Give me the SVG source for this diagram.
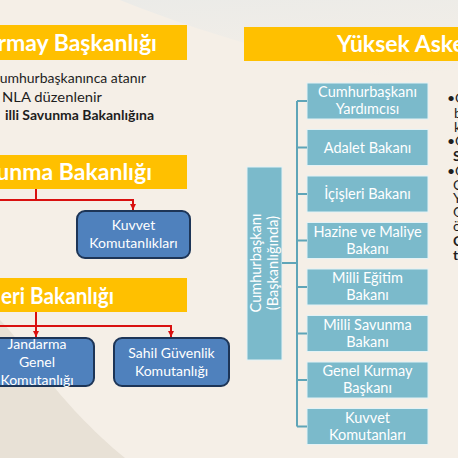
<svg xmlns="http://www.w3.org/2000/svg" width="458" height="458" viewBox="0 0 458 458">
<defs>
<linearGradient id="topg" x1="0" y1="0" x2="0.3" y2="1">
<stop offset="0" stop-color="#ebebe8" stop-opacity="1"/>
<stop offset="1" stop-color="#ebebe8" stop-opacity="0"/>
</linearGradient>
<marker id="ar" viewBox="0 0 6 6" refX="6" refY="3" markerWidth="6" markerHeight="6" orient="auto" markerUnits="userSpaceOnUse">
<path d="M0,0 L6,3 L0,6 Z" fill="#d9100f"/>
</marker>
<style>
.ban{fill:#ffc000}
.bt{font-family:Lato,"Open Sans",sans-serif;font-weight:bold;font-size:23px;fill:#fff}
.bl{font-family:Lato,"Open Sans",sans-serif;font-size:14px;fill:#1e1e1e}
.blue{fill:#4f81bd;stroke:#1d3557;stroke-width:2}
.wt{font-family:Lato,"Open Sans",sans-serif;font-size:14px;fill:#fff;text-anchor:middle}
.teal{fill:#7bbacb;stroke:#e4f2f5;stroke-width:1}
.tt{font-family:Lato,"Open Sans",sans-serif;font-size:14.5px;fill:#fff;text-anchor:middle}
.red{fill:none;stroke:#d9100f;stroke-width:2}
.tl{fill:none;stroke:#5fa5b8;stroke-width:2}
</style>
</defs>
<rect width="458" height="458" fill="#f5efe7"/>
<path d="M120,0 C220,40 330,70 458,90 L458,0 Z" fill="url(#topg)"/>
<path d="M0,320 C25,345 55,400 125,458 L0,458 Z" fill="#e8e1d6"/>

<g id="banner-gkb">
<rect class="ban" x="-10" y="25" width="197" height="35"/>
<text class="bt" x="157" y="51" text-anchor="end">urmay Başkanlığı</text>
</g>
<g id="gkb-notes">
<text class="bl" x="146" y="83" text-anchor="end">umhurbaşkanınca atanır</text>
<text class="bl" x="2" y="102" textLength="100" lengthAdjust="spacingAndGlyphs">NLA düzenlenir</text>
<text class="bl" x="154" y="120" text-anchor="end" font-weight="bold">illi Savunma Bakanlığına</text>
</g>
<g id="banner-msb">
<rect class="ban" x="-10" y="155" width="197" height="34"/>
<text class="bt" x="152" y="180" text-anchor="end">vunma Bakanlığı</text>
</g>
<g id="kuvvet-komutanliklari">
<rect class="blue" x="77" y="211" width="113" height="47" rx="8"/>
<text class="wt" x="133.5" y="230">Kuvvet</text>
<text class="wt" x="133.5" y="248">Komutanlıkları</text>
</g>
<g id="banner-icisleri">
<rect class="ban" x="-10" y="278" width="197" height="34"/>
<text class="bt" x="1" y="304" textLength="113" lengthAdjust="spacingAndGlyphs">eri Bakanlığı</text>
</g>
<g id="jandarma">
<rect class="blue" x="-19" y="338" width="113" height="48" rx="8"/>
<text class="wt" x="37" y="349">Jandarma</text>
<text class="wt" x="37" y="367">Genel</text>
<text class="wt" x="37" y="385">Komutanlığı</text>
</g>
<g id="sahil">
<rect class="blue" x="114" y="338" width="115" height="48" rx="8"/>
<text class="wt" x="171.5" y="358">Sahil Güvenlik</text>
<text class="wt" x="171.5" y="376">Komutanlığı</text>
</g>

<g id="banner-yas">
<rect class="ban" x="244" y="27" width="224" height="34"/>
<text class="bt" x="337" y="52">Yüksek Aske</text>
</g>
<g id="cumhurbaskani">
<rect class="teal" x="247" y="167" width="35" height="193"/>
<text class="tt" transform="translate(261,263) rotate(-90)">Cumhurbaşkanı</text>
<text class="tt" transform="translate(278,263) rotate(-90)">(Başkanlığında)</text>
</g>
<g id="m1"><rect class="teal" x="307" y="83" width="121" height="36"/><text class="tt" x="367.5" y="97">Cumhurbaşkanı</text><text class="tt" x="367.5" y="114">Yardımcısı</text></g>
<g id="m2"><rect class="teal" x="307" y="129.5" width="121" height="36"/><text class="tt" x="367.5" y="152.5">Adalet Bakanı</text></g>
<g id="m3"><rect class="teal" x="307" y="176" width="121" height="36"/><text class="tt" x="367.5" y="199">İçişleri Bakanı</text></g>
<g id="m4"><rect class="teal" x="307" y="222.5" width="121" height="36"/><text class="tt" x="367.5" y="236.5">Hazine ve Maliye</text><text class="tt" x="367.5" y="253.5">Bakanı</text></g>
<g id="m5"><rect class="teal" x="307" y="269" width="121" height="36"/><text class="tt" x="367.5" y="283">Milli Eğitim</text><text class="tt" x="367.5" y="300">Bakanı</text></g>
<g id="m6"><rect class="teal" x="307" y="315.5" width="121" height="36"/><text class="tt" x="367.5" y="329.5">Milli Savunma</text><text class="tt" x="367.5" y="346.5">Bakanı</text></g>
<g id="m7"><rect class="teal" x="307" y="362" width="121" height="36"/><text class="tt" x="367.5" y="376">Genel Kurmay</text><text class="tt" x="367.5" y="393">Başkanı</text></g>
<g id="m8"><rect class="teal" x="307" y="408.5" width="121" height="36"/><text class="tt" x="367.5" y="422.5">Kuvvet</text><text class="tt" x="367.5" y="439.5">Komutanları</text></g>

<g id="yas-notes">
<text class="bl" x="447" y="103">•C</text>
<text class="bl" x="454" y="118">b</text>
<text class="bl" x="454" y="132">k</text>
<text class="bl" x="447" y="146">•G</text>
<text class="bl" x="453" y="161" font-weight="bold">S</text>
<text class="bl" x="447" y="176">•G</text>
<text class="bl" x="453" y="190">C</text>
<text class="bl" x="453" y="203">Y</text>
<text class="bl" x="453" y="217">G</text>
<text class="bl" x="453" y="231">ö</text>
<text class="bl" x="453" y="246" font-weight="bold">C</text>
<text class="bl" x="453" y="260" font-weight="bold">t</text>
</g>

<g id="connectors">
<path class="red" d="M36,189 V200 M0,200 H133 V210" marker-end="url(#ar)"/>
<path class="red" d="M36,312 V326 M0,326 H171 V337" marker-end="url(#ar)"/>
<path class="red" d="M36,326 V337" marker-end="url(#ar)"/>
<path class="tl" d="M297,101 V426.5 M282,263 H297 M297,101 H307 M297,147.5 H307 M297,194 H307 M297,240.5 H307 M297,287 H307 M297,333.5 H307 M297,380 H307 M297,426.5 H307"/>
</g>
</svg>
